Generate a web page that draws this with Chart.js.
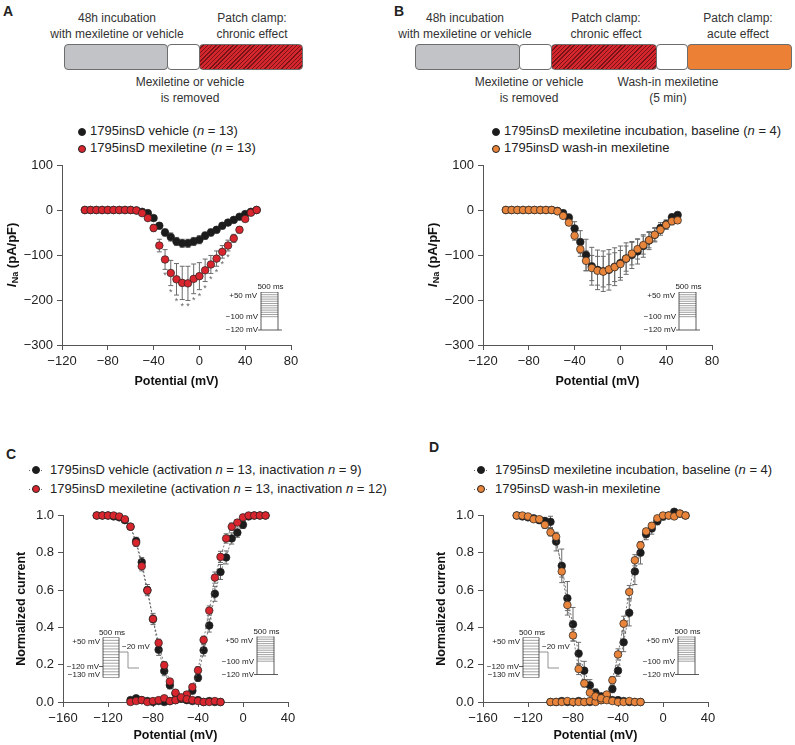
<!DOCTYPE html>
<html>
<head>
<meta charset="utf-8">
<script src="https://cdn.jsdelivr.net/npm/chart.js@4.4.1/dist/chart.umd.min.js"></script>
<style>
body { margin: 0; background: #fff; font-family: "Liberation Sans", Arial, sans-serif; color: #222; }
#page { position: relative; width: 795px; height: 745px; overflow: hidden; }
canvas { position: absolute; }
.lbl { position: absolute; font-size: 12px; line-height: 16px; text-align: center; white-space: nowrap; transform: translateX(-50%); color: #333; }
.box { position: absolute; top: 44px; height: 26px; border: 1px solid #6d6d6d; border-radius: 4px; box-sizing: border-box; }
.gray { background: #c2c3c6; }
.white { background: #fff; }
.hatch { background: repeating-linear-gradient(-45deg, #d3262d 0, #d3262d 2px, #7a1317 2px, #7a1317 3px); }
.orange { background: #ec8035; }
.letter { position: absolute; font-weight: bold; font-size: 14px; line-height: 14px; }
.leg { position: absolute; font-size: 13px; line-height: 16px; white-space: nowrap; color: #222; }
.dot { display: inline-block; width: 8px; height: 8px; border-radius: 50%; box-sizing: border-box; border: 1px solid #222; vertical-align: -1px; margin-right: 4px; }
.blk { background: #1c1c1c; }
.red { background: #d9262e; }
.org { background: #e9853b; }
.dl { display: inline-block; position: relative; width: 15px; height: 9px; vertical-align: -1px; margin-right: 6px;
      background: linear-gradient(to right, #666 50%, transparent 50%) 0 4px / 3px 1px repeat-x; }
.dl .dot { position: absolute; left: 3px; top: 0; margin: 0; }
</style>
</head>
<body>
<div id="page">

  <div class="letter" style="left:3px;top:4px">A</div>
  <div class="letter" style="left:394px;top:4px">B</div>
  <div class="letter" style="left:6px;top:447px">C</div>
  <div class="letter" style="left:429px;top:440px">D</div>

  <!-- timeline A -->
  <div class="lbl" style="left:117px;top:10px">48h incubation<br>with mexiletine or vehicle</div>
  <div class="lbl" style="left:252px;top:10px">Patch clamp:<br>chronic effect</div>
  <div class="box gray" style="left:64px;width:104px"></div>
  <div class="box white" style="left:167px;width:33px"></div>
  <div class="box hatch" style="left:199px;width:104px"></div>
  <div class="lbl" style="left:190px;top:74px">Mexiletine or vehicle<br>is removed</div>

  <!-- timeline B -->
  <div class="lbl" style="left:465px;top:10px">48h incubation<br>with mexiletine or vehicle</div>
  <div class="lbl" style="left:606px;top:10px">Patch clamp:<br>chronic effect</div>
  <div class="lbl" style="left:738px;top:10px">Patch clamp:<br>acute effect</div>
  <div class="box gray" style="left:415px;width:105px"></div>
  <div class="box white" style="left:519px;width:33px"></div>
  <div class="box hatch" style="left:551px;width:106px"></div>
  <div class="box white" style="left:656px;width:32px"></div>
  <div class="box orange" style="left:687px;width:105px"></div>
  <div class="lbl" style="left:529px;top:74px">Mexiletine or vehicle<br>is removed</div>
  <div class="lbl" style="left:668px;top:74px">Wash-in mexiletine<br>(5 min)</div>

  <!-- legends -->
  <div class="leg" style="left:78px;top:123px"><span class="dot blk"></span>1795insD vehicle (<i>n</i> = 13)</div>
  <div class="leg" style="left:78px;top:140px"><span class="dot red"></span>1795insD mexiletine (<i>n</i> = 13)</div>
  <div class="leg" style="left:492px;top:123px"><span class="dot blk"></span>1795insD mexiletine incubation, baseline (<i>n</i> = 4)</div>
  <div class="leg" style="left:492px;top:140px"><span class="dot org"></span>1795insD wash-in mexiletine</div>
  <div class="leg" style="left:29px;top:462px"><span class="dl"><span class="dot blk"></span></span>1795insD vehicle (activation <i>n</i> = 13, inactivation <i>n</i> = 9)</div>
  <div class="leg" style="left:29px;top:481px"><span class="dl"><span class="dot red"></span></span>1795insD mexiletine (activation <i>n</i> = 13, inactivation <i>n</i> = 12)</div>
  <div class="leg" style="left:474px;top:462px"><span class="dl"><span class="dot blk"></span></span>1795insD mexiletine incubation, baseline (<i>n</i> = 4)</div>
  <div class="leg" style="left:474px;top:481px"><span class="dl"><span class="dot org"></span></span>1795insD wash-in mexiletine</div>

  <canvas id="cA" width="400" height="290" style="left:0;top:110px"></canvas>
  <canvas id="cB" width="395" height="290" style="left:400px;top:110px"></canvas>
  <canvas id="cC" width="400" height="335" style="left:0;top:410px"></canvas>
  <canvas id="cD" width="395" height="335" style="left:400px;top:410px"></canvas>
</div>

<script>
// ---- data ----
const potIV = [-100,-95,-90,-85,-80,-75,-70,-65,-60,-55,-50,-45,-40,-35,-30,-25,-20,-15,-10,-5,0,5,10,15,20,25,30,35,40,45,50];
const potInact = [-130,-125,-120,-115,-110,-105,-100,-95,-90,-85,-80,-75,-70,-65,-60,-55,-50,-45,-40,-35,-30,-25,-20];
const potAct = [-100,-95,-90,-85,-80,-75,-70,-65,-60,-55,-50,-45,-40,-35,-30,-25,-20,-15,-10,-5,0,5,10,15,20];

// A: current density, vehicle vs mexiletine incubation
const vehA = [0,0,0,0,0,0,0,0,0,-1,-4,-7,-18,-35,-50,-60,-70,-74,-74,-70,-66,-57,-50,-44,-35,-28,-22,-15,-9,-4,0];
const vehAErr = [0,0,0,0,0,0,0,0,0,1,2,3,5,7,8,9,9,9,9,9,9,8,8,7,7,6,5,4,3,2,1];
const mexA = [0,0,0,0,0,0,0,0,0,-1,-7,-18,-40,-79,-110,-140,-154,-162,-163,-153,-147,-134,-121,-108,-93,-79,-63,-44,-20,-6,0];
const mexAErr = [0,0,0,0,0,0,0,0,0,1,3,5,8,14,22,28,35,37,38,33,30,25,20,17,14,12,9,7,5,3,2];
const sigA = [0,0,0,0,0,0,0,0,0,0,0,0,0,0,1,1,1,1,1,1,1,1,1,1,1,1,0,0,0,0,0];

// B: baseline vs wash-in
const baseB = [0,0,0,0,0,0,0,0,0,-2,-7,-17,-41,-71,-100,-125,-133,-136,-133,-126,-118,-108,-100,-92,-80,-68,-55,-40,-32,-16,-11];
const baseBErr = [0,0,0,0,0,0,0,0,0,2,4,8,15,25,35,42,44,45,45,42,38,35,30,28,25,20,16,12,10,7,6];
const washB = [0,0,0,0,0,0,0,0,0,-3,-13,-28,-57,-87,-113,-129,-135,-137,-132,-127,-120,-108,-97,-87,-78,-67,-55,-44,-33,-25,-23];
const washBErr = [0,0,0,0,0,0,0,0,0,1,3,6,10,16,22,28,32,34,34,32,30,28,25,22,20,17,14,12,10,8,7];

// C: normalized activation / inactivation
const inVehC = [1.0,1.0,1.0,0.995,0.99,0.975,0.94,0.863,0.75,0.60,0.445,0.28,0.166,0.09,0.045,0.02,0.01,0.005,0.01,0.0,0.005,0.0,0.0];
const inVehCErr = [0,0,0,0,0.005,0.01,0.01,0.02,0.025,0.03,0.03,0.03,0.025,0.02,0.01,0.005,0,0,0,0,0,0,0];
const inMexC = [1.0,1.0,1.0,1.0,0.995,0.98,0.94,0.854,0.728,0.598,0.445,0.317,0.197,0.11,0.05,0.025,0.015,0.01,0.005,0.0,0.0,0.005,0.0];
const inMexCErr = [0,0,0,0,0,0.005,0.01,0.02,0.025,0.02,0.02,0.02,0.02,0.015,0.01,0.005,0,0,0,0,0,0,0];
const actVehC = [0.01,0.02,0.01,0.005,0.0,0.005,0.0,0.005,0.01,0.02,0.035,0.06,0.13,0.277,0.41,0.58,0.697,0.775,0.877,0.908,0.95,0.995,1.0,1.0,1.0];
const actVehCErr = [0,0,0,0,0,0,0,0,0,0.005,0.01,0.015,0.02,0.03,0.035,0.04,0.04,0.035,0.03,0.025,0.02,0.01,0.005,0,0];
const actMexC = [0.0,0.005,0.01,0.0,0.005,0.01,0.02,0.005,0.01,0.02,0.04,0.08,0.17,0.333,0.49,0.667,0.778,0.877,0.94,0.962,0.99,1.0,1.0,1.0,1.0];
const actMexCErr = [0,0,0,0,0,0,0,0,0,0.005,0.01,0.015,0.02,0.02,0.025,0.03,0.03,0.025,0.02,0.015,0.01,0.005,0,0,0];

// D: normalized, baseline vs wash-in
const inBaseD = [1.0,0.995,0.99,0.985,0.975,0.97,0.966,0.86,0.73,0.556,0.417,0.26,0.168,0.09,0.05,0.03,0.02,0.01,0.01,0.005,0.0,0.0,0.0];
const inBaseDErr = [0,0,0.005,0.01,0.015,0.02,0.03,0.05,0.09,0.09,0.09,0.06,0.05,0.03,0.02,0.01,0.005,0,0,0,0,0,0];
const inWashD = [1.0,1.0,0.995,0.98,0.98,0.95,0.91,0.886,0.70,0.52,0.357,0.177,0.1,0.05,0.03,0.02,0.01,0.005,0.0,0.0,0.005,0.0,0.0];
const inWashDErr = [0,0,0,0.01,0.01,0.02,0.02,0.02,0.03,0.03,0.03,0.03,0.02,0.01,0.01,0.005,0,0,0,0,0,0,0];
const actBaseD = [0.0,0.0,0.005,0.0,0.0,0.005,0.0,0.0,0.005,0.01,0.03,0.07,0.168,0.32,0.478,0.70,0.80,0.90,0.93,0.97,0.995,1.0,1.02,1.01,1.0];
const actBaseDErr = [0,0,0,0,0,0,0,0,0,0.005,0.01,0.02,0.03,0.05,0.07,0.07,0.06,0.03,0.03,0.02,0.02,0.01,0.01,0.01,0];
const actWashD = [0.0,0.0,0.0,0.005,0.0,0.0,0.0,0.005,0.0,0.01,0.04,0.117,0.255,0.42,0.59,0.76,0.84,0.915,0.945,0.985,1.0,1.0,0.995,1.01,1.0];
const actWashDErr = [0,0,0,0,0,0,0,0,0,0.005,0.01,0.02,0.03,0.04,0.035,0.03,0.02,0.015,0.01,0.01,0.01,0,0,0,0];

const FONT = '"Liberation Sans", Arial, sans-serif';
const BLACK = '#1c1c1c', RED = '#d9262e', ORANGE = '#e9853b';
Chart.defaults.font.family = FONT;

// protocol insets, offsets from chart area top-left
const insetDefs = {
  cA: [{ kind: 'act', dx: 199, dy: 127 }],
  cB: [{ kind: 'act', dx: 196, dy: 127 }],
  cC: [{ kind: 'inact', dx: 40, dy: 122 }, { kind: 'act', dx: 194, dy: 121 }],
  cD: [{ kind: 'inact', dx: 40, dy: 122 }, { kind: 'act', dx: 195, dy: 121 }]
};

function pts(xs, ys) {
  return xs.map((x, i) => ({ x: x, y: ys[i] }));
}

function minus(v) {
  return String(v).replace('-', '\u2212');
}

function line(ctx, x1, y1, x2, y2) {
  ctx.beginPath();
  ctx.moveTo(x1, y1);
  ctx.lineTo(x2, y2);
  ctx.stroke();
}

function drawAct(ctx, x, y) {
  const w = 17;
  ctx.save();
  ctx.lineWidth = 0.8;
  ctx.strokeStyle = '#8a8a8a';
  for (let k = 0; k < 12; k++) line(ctx, x, y + k * 2.2 + 0.5, x + w, y + k * 2.2 + 0.5);
  ctx.strokeStyle = '#333';
  line(ctx, x, y, x, y + 38);
  line(ctx, x + w, y, x + w, y + 38);
  line(ctx, x - 3, y + 38, x + w + 4, y + 38);
  ctx.fillStyle = '#222';
  ctx.font = '8px ' + FONT;
  ctx.textBaseline = 'middle';
  ctx.textAlign = 'center';
  ctx.fillText('500 ms', x + w / 2 + 1, y - 5);
  ctx.textAlign = 'right';
  ctx.fillText('+50 mV', x - 4, y + 4);
  ctx.fillText('\u2212100 mV', x - 3, y + 25);
  ctx.fillText('\u2212120 mV', x - 3, y + 38);
  ctx.restore();
}

function drawInact(ctx, x, y) {
  const w = 16, h = 40;
  ctx.save();
  ctx.lineWidth = 0.8;
  ctx.strokeStyle = '#8a8a8a';
  for (let k = 0; k <= 14; k++) line(ctx, x, y + k * h / 14, x + w, y + k * h / 14);
  ctx.strokeStyle = '#333';
  line(ctx, x, y, x, y + h);
  line(ctx, x + w, y, x + w, y + h);
  line(ctx, x - 4, y + 29, x, y + 29);
  ctx.strokeStyle = '#777';
  line(ctx, x + w, y + 14.5, x + w + 9, y + 14.5);
  line(ctx, x + w + 9, y + 14.5, x + w + 9, y + 30.5);
  line(ctx, x + w + 9, y + 30.5, x + w + 20, y + 30.5);
  ctx.fillStyle = '#222';
  ctx.font = '8px ' + FONT;
  ctx.textBaseline = 'middle';
  ctx.textAlign = 'center';
  ctx.fillText('500 ms', x + w / 2 + 1, y - 5);
  ctx.textAlign = 'right';
  ctx.fillText('+50 mV', x - 3, y + 4.5);
  ctx.fillText('\u2212120 mV', x - 4, y + 29);
  ctx.fillText('\u2212130 mV', x - 3, y + 37);
  ctx.textAlign = 'left';
  ctx.fillText('\u221220 mV', x + w + 3, y + 9.5);
  ctx.restore();
}

const errBars = {
  id: 'errBars',
  beforeDatasetsDraw(chart) {
    const ctx = chart.ctx, ys = chart.scales.y;
    chart.data.datasets.forEach((ds, i) => {
      if (!ds.err) return;
      const meta = chart.getDatasetMeta(i);
      ctx.save();
      ctx.strokeStyle = '#6b6b6b';
      ctx.lineWidth = 1;
      meta.data.forEach((pt, j) => {
        const e = ds.err[j];
        if (!e) return;
        const v = ds.data[j].y;
        const y1 = ys.getPixelForValue(v + e), y2 = ys.getPixelForValue(v - e);
        line(ctx, pt.x, y1, pt.x, y2);
        line(ctx, pt.x - 2.5, y1, pt.x + 2.5, y1);
        line(ctx, pt.x - 2.5, y2, pt.x + 2.5, y2);
      });
      ctx.restore();
    });
  }
};

const stars = {
  id: 'stars',
  afterDatasetsDraw(chart) {
    if (chart.canvas.id !== 'cA') return;
    const ctx = chart.ctx, ys = chart.scales.y;
    const meta = chart.getDatasetMeta(0);
    ctx.save();
    ctx.fillStyle = '#666';
    ctx.font = '9px ' + FONT;
    ctx.textAlign = 'center';
    ctx.textBaseline = 'top';
    meta.data.forEach((pt, j) => {
      if (!sigA[j]) return;
      ctx.fillText('*', pt.x, ys.getPixelForValue(mexA[j] - mexAErr[j]) + 2);
    });
    ctx.restore();
  }
};

const insets = {
  id: 'insets',
  afterDraw(chart) {
    const list = insetDefs[chart.canvas.id] || [];
    const a = chart.chartArea;
    list.forEach(it => {
      if (it.kind === 'act') drawAct(chart.ctx, a.left + it.dx, a.top + it.dy);
      else drawInact(chart.ctx, a.left + it.dx, a.top + it.dy);
    });
  }
};

const inaTitle = {
  id: 'inaTitle',
  afterDraw(chart) {
    const pos = { cA: 12, cB: 33 }[chart.canvas.id];
    if (pos === undefined) return;
    const ctx = chart.ctx, a = chart.chartArea;
    const f1 = 'italic bold 13px ' + FONT, f2 = 'bold 9px ' + FONT, f3 = 'bold 13px ' + FONT;
    ctx.save();
    ctx.translate(pos, (a.top + a.bottom) / 2);
    ctx.rotate(-Math.PI / 2);
    ctx.font = f1; const w1 = ctx.measureText('I').width + 0.5;
    ctx.font = f2; const w2 = ctx.measureText('Na').width;
    ctx.font = f3; const w3 = ctx.measureText(' (pA/pF)').width;
    let x = -(w1 + w2 + w3) / 2;
    ctx.fillStyle = '#111';
    ctx.textBaseline = 'middle';
    ctx.textAlign = 'left';
    ctx.font = f1; ctx.fillText('I', x, 0); x += w1;
    ctx.font = f2; ctx.fillText('Na', x, 4); x += w2;
    ctx.font = f3; ctx.fillText(' (pA/pF)', x, 0);
    ctx.restore();
  }
};

function scatterSet(data, err, color, order, dashed) {
  return {
    data: data,
    err: err,
    order: order,
    showLine: !!dashed,
    borderColor: '#555',
    borderWidth: 0.8,
    borderDash: [2, 2],
    pointRadius: 3.8,
    pointBackgroundColor: color,
    pointBorderColor: '#222',
    pointBorderWidth: 0.7,
    clip: false
  };
}

function axis(min, max, step, fmt, extra) {
  return Object.assign({
    type: 'linear',
    min: min,
    max: max,
    ticks: { stepSize: step, color: '#222', font: { size: 13 }, padding: 4, callback: fmt },
    grid: { display: true, drawOnChartArea: false, drawTicks: true, tickLength: 5, color: '#555' },
    border: { display: true, color: '#555', width: 1 }
  }, extra);
}

function makeChart(id, datasets, o) {
  return new Chart(document.getElementById(id), {
    type: 'scatter',
    data: { datasets: datasets },
    options: {
      responsive: false,
      animation: false,
      events: [],
      layout: { padding: { left: 0, top: o.top, right: o.right, bottom: 0 } },
      plugins: { legend: { display: false }, tooltip: { enabled: false } },
      scales: {
        x: axis(o.xmin, o.xmax, 40, v => minus(v), {
          title: { display: true, text: 'Potential (mV)', color: '#111', font: { size: 12.5, weight: 'bold' }, padding: { top: 0, bottom: o.xTitlePad } },
          afterFit: s => { s.height = o.xHeight; }
        }),
        y: axis(o.ymin, o.ymax, o.ystep, o.yfmt, {
          title: { display: !!o.yTitle, text: o.yTitle || '', color: '#111', font: { size: 12.5, weight: 'bold' }, padding: { top: o.yTitlePad || 0, bottom: 0 } },
          afterFit: s => { s.width = o.yWidth; }
        })
      }
    },
    plugins: [errBars, stars, insets, inaTitle]
  });
}

const ivFmt = v => minus(v);
const normFmt = v => v.toFixed(1);

makeChart('cA', [
  scatterSet(pts(potIV, mexA), mexAErr, RED, 0, false),
  scatterSet(pts(potIV, vehA), vehAErr, BLACK, 1, false)
], { top: 55, right: 109, yWidth: 62, xHeight: 55, xTitlePad: 10.5, xmin: -120, xmax: 80, ymin: -300, ymax: 100, ystep: 100, yfmt: ivFmt });

makeChart('cB', [
  scatterSet(pts(potIV, washB), washBErr, ORANGE, 0, false),
  scatterSet(pts(potIV, baseB), baseBErr, BLACK, 1, false)
], { top: 55, right: 83, yWidth: 83, xHeight: 55, xTitlePad: 10.5, xmin: -120, xmax: 80, ymin: -300, ymax: 100, ystep: 100, yfmt: ivFmt });

makeChart('cC', [
  scatterSet(pts(potInact, inMexC), inMexCErr, RED, 0, true),
  scatterSet(pts(potAct, actMexC), actMexCErr, RED, 1, true),
  scatterSet(pts(potInact, inVehC), inVehCErr, BLACK, 2, true),
  scatterSet(pts(potAct, actVehC), actVehCErr, BLACK, 3, true)
], { top: 105.5, right: 112, yWidth: 63, xHeight: 43, xTitlePad: 1.5, xmin: -160, xmax: 40, ymin: 0, ymax: 1, ystep: 0.2, yfmt: normFmt, yTitle: 'Normalized current', yTitlePad: 14.5 });

makeChart('cD', [
  scatterSet(pts(potInact, inWashD), inWashDErr, ORANGE, 0, true),
  scatterSet(pts(potAct, actWashD), actWashDErr, ORANGE, 1, true),
  scatterSet(pts(potInact, inBaseD), inBaseDErr, BLACK, 2, true),
  scatterSet(pts(potAct, actBaseD), actBaseDErr, BLACK, 3, true)
], { top: 105.5, right: 87, yWidth: 83, xHeight: 43, xTitlePad: 1.5, xmin: -160, xmax: 40, ymin: 0, ymax: 1, ystep: 0.2, yfmt: normFmt, yTitle: 'Normalized current', yTitlePad: 34.5 });
</script>
</body>
</html>
